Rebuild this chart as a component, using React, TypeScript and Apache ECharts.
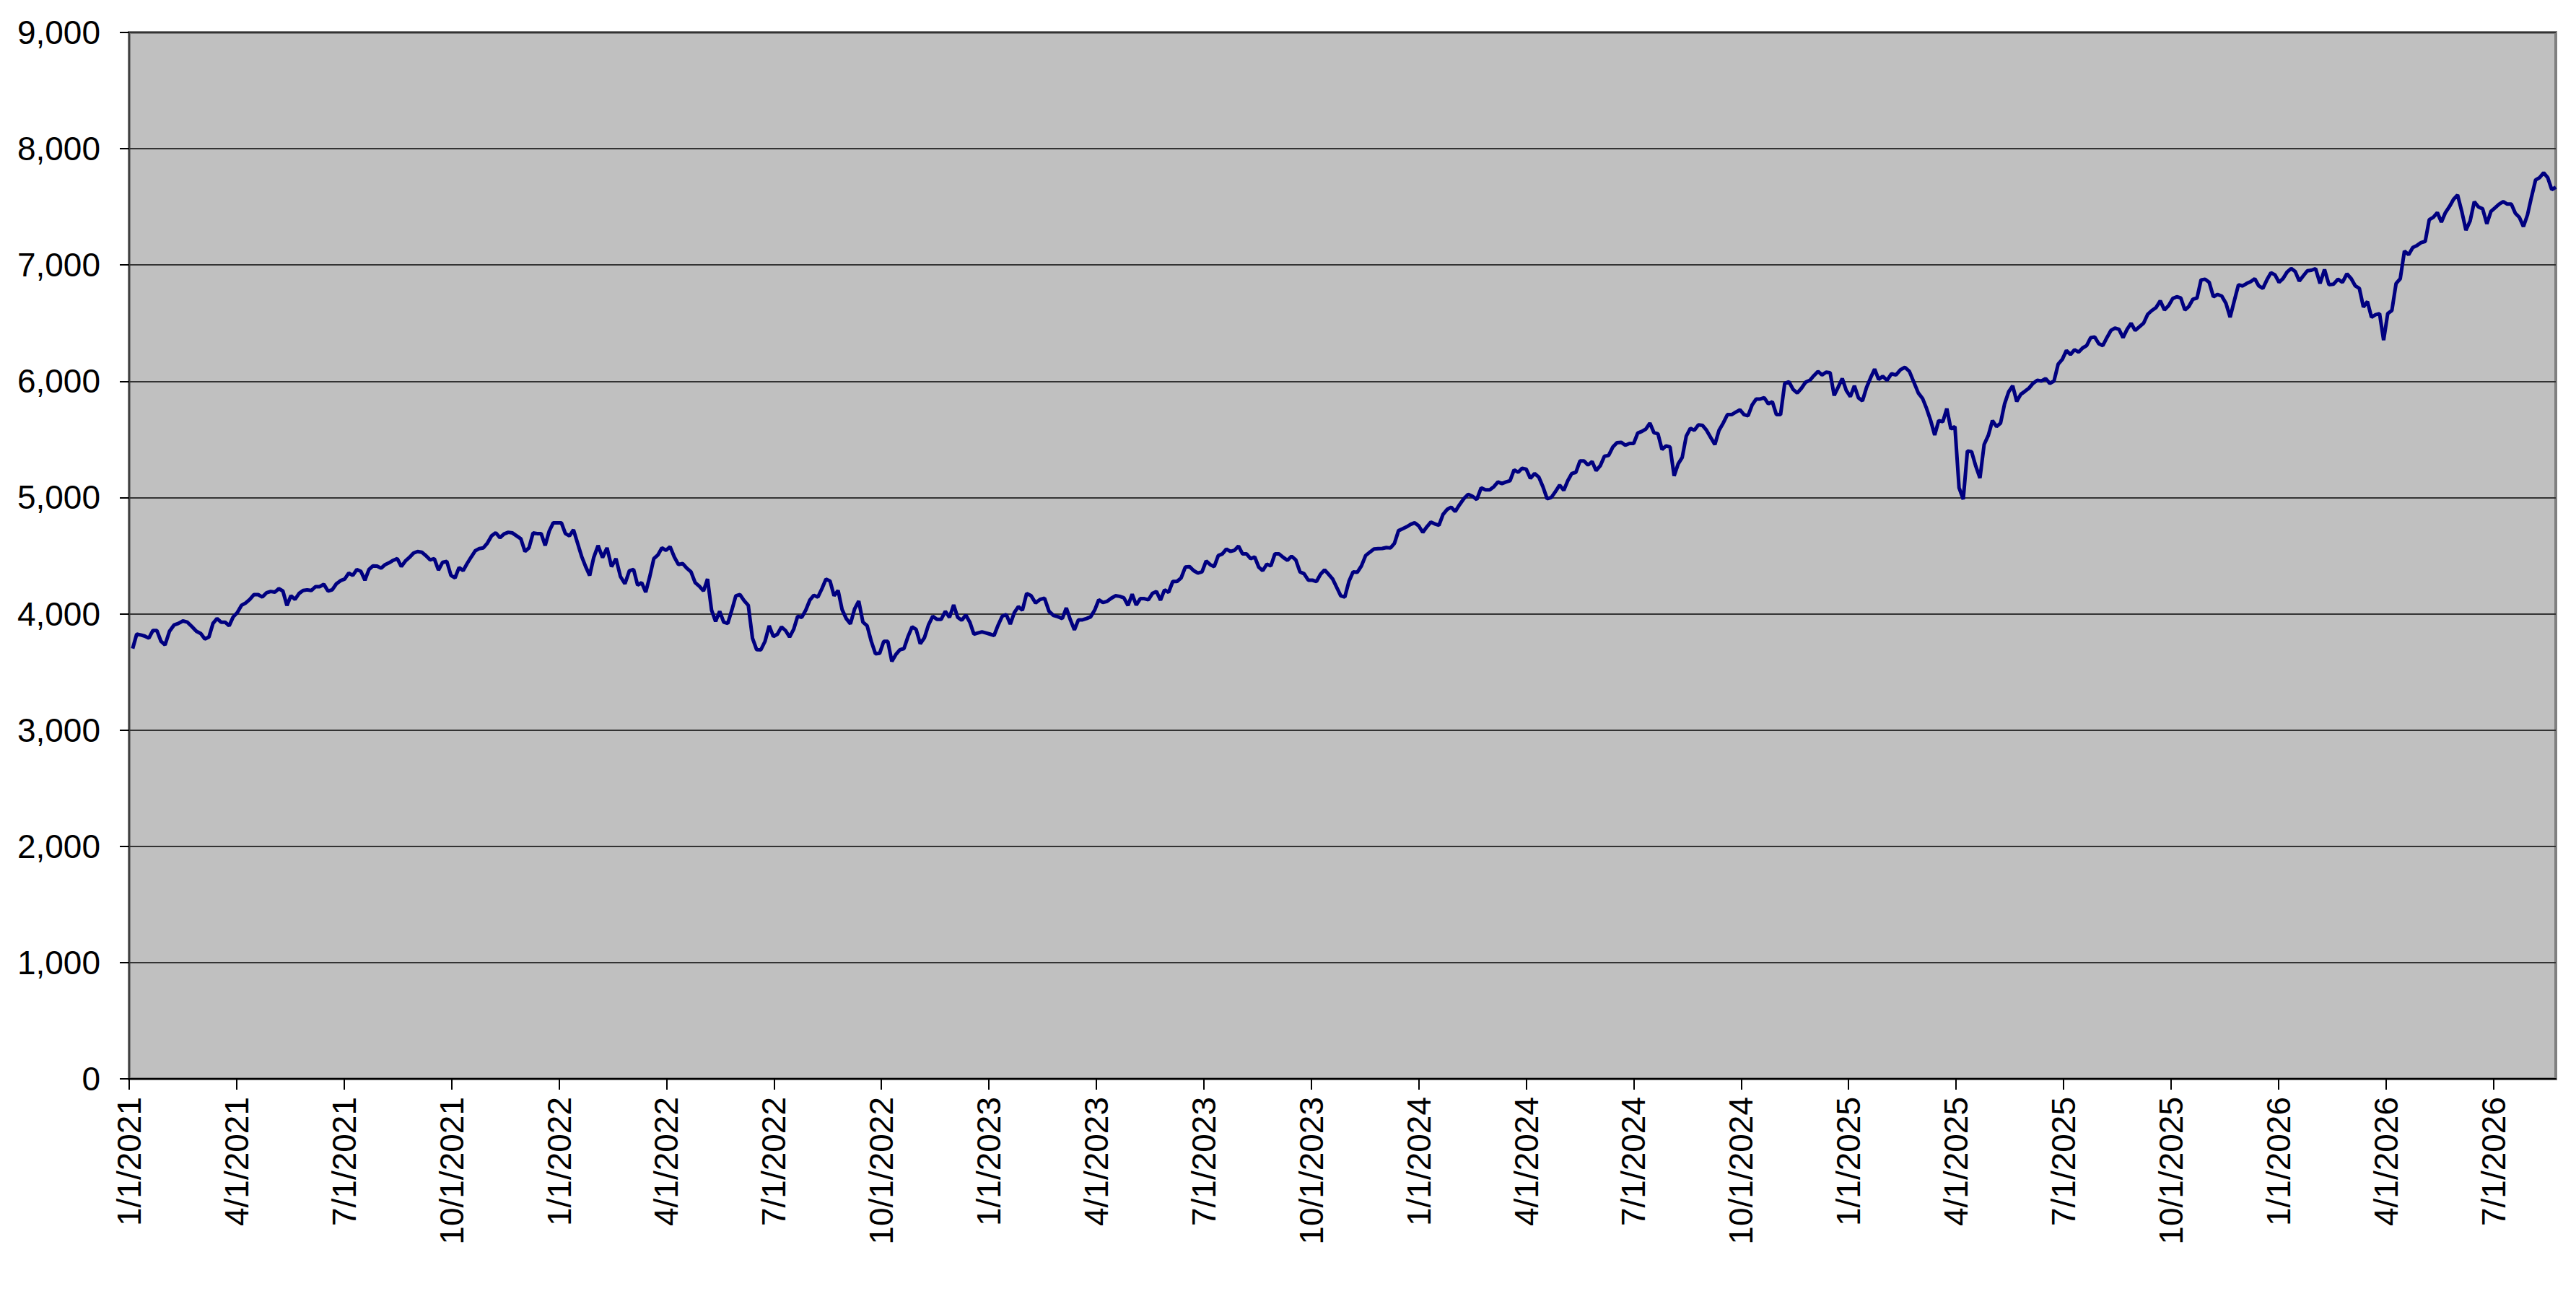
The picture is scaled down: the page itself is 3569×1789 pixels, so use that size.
import React, { useEffect, useRef } from 'react';
import * as echarts from 'echarts';

const firstSample = '2021-01-04';
const sampleStepDays = 3.5;

const values2021 = [
  3701, 3825, 3818, 3808, 3790, 3856, 3856, 3763, 3732, 3850, 3903, 3917, 3938, 3928,
  3890, 3850, 3830, 3783, 3800, 3917, 3959, 3928, 3928, 3897, 3973, 4010, 4072, 4093,
  4124, 4165, 4165, 4144, 4181, 4192, 4186, 4216, 4196, 4072, 4155, 4124, 4175, 4200,
  4206, 4200, 4233, 4233, 4254, 4196, 4206, 4258, 4285, 4299, 4350, 4330, 4381, 4365,
  4289, 4381, 4412, 4410, 4392, 4423, 4439, 4460, 4474, 4406, 4454, 4485, 4522, 4536,
  4530, 4500, 4464, 4474, 4376, 4443, 4450, 4330, 4309, 4398, 4371, 4433, 4489, 4542,
  4561, 4567, 4608, 4670, 4697, 4654, 4687, 4701, 4695, 4670, 4645, 4536, 4567, 4695,
  4690, 4690, 4588, 4711, 4783, 4783,
];
const values2022 = [
  4783, 4690, 4670, 4722, 4608, 4495, 4406, 4330, 4484, 4587, 4484, 4567, 4406, 4474,
  4320, 4258, 4371, 4381, 4247, 4268, 4186, 4320, 4474, 4505, 4567, 4546, 4577, 4489,
  4423, 4433, 4392, 4361, 4268, 4237, 4196, 4299, 4031, 3934, 4021, 3928, 3917, 4031,
  4155, 4165, 4113, 4072, 3790, 3691, 3690, 3763, 3897, 3804, 3825, 3887, 3856, 3800,
  3866, 3979, 3969, 4031, 4117, 4159, 4144, 4216, 4299, 4282, 4155, 4200, 4035, 3959,
  3913, 4041, 4109, 3928, 3897, 3763, 3656, 3660, 3763, 3763, 3590, 3650, 3691, 3701,
  3804, 3887, 3866, 3742, 3794, 3907, 3979, 3952, 3952, 4021, 3969, 4076, 3969, 3944,
  3990, 3928, 3825, 3835, 3845, 3835,
];
const values2023 = [
  3825, 3814, 3903, 3979, 3994, 3911, 4010, 4062, 4031, 4175, 4155, 4093, 4124, 4134,
  4021, 3986, 3975, 3959, 4050, 3948, 3862, 3948, 3948, 3959, 3973, 4031, 4120, 4097,
  4107, 4134, 4155, 4150, 4138, 4072, 4169, 4076, 4130, 4130, 4120, 4175, 4192, 4117,
  4206, 4185, 4278, 4278, 4309, 4402, 4406, 4371, 4350, 4361, 4454, 4423, 4406, 4501,
  4515, 4557, 4536, 4546, 4583, 4515, 4515, 4474, 4489, 4402, 4371, 4427, 4412, 4515,
  4515, 4485, 4460, 4495, 4464, 4361, 4344, 4289, 4289, 4278, 4340, 4377, 4340, 4299,
  4227, 4155, 4144, 4278, 4361, 4357, 4412, 4501, 4530, 4557, 4561, 4562, 4570, 4566,
  4607, 4715, 4731, 4748, 4769, 4783,
];
const values2024 = [
  4756, 4700, 4748, 4789, 4773, 4762, 4855, 4897, 4917, 4880, 4938, 4990, 5027, 5010,
  4983, 5083, 5066, 5066, 5093, 5134, 5120, 5134, 5145, 5238, 5217, 5252, 5244, 5165,
  5207, 5176, 5093, 4990, 5000, 5052, 5107, 5062, 5145, 5207, 5217, 5314, 5314, 5279,
  5310, 5231, 5273, 5355, 5362, 5434, 5471, 5475, 5450, 5465, 5465, 5554, 5568, 5589,
  5640, 5558, 5548, 5413, 5444, 5434, 5186, 5289, 5345, 5528, 5595, 5579, 5625, 5621,
  5579, 5517, 5456, 5579, 5641, 5713, 5713, 5734, 5755, 5713, 5703, 5796, 5847, 5847,
  5858, 5806, 5823, 5713, 5713, 5981, 5996, 5930, 5899, 5940, 5992, 6008, 6049, 6085,
  6054, 6078, 6074, 5878, 5950, 6023,
];
const values2025 = [
  5920, 5868, 5961, 5858, 5831, 5946, 6029, 6105, 6016, 6043, 6008, 6064, 6054, 6099,
  6120, 6085, 5992, 5899, 5852, 5765, 5662, 5538, 5662, 5652, 5765, 5590, 5610, 5084,
  4985, 5400, 5394, 5270, 5167, 5456, 5534, 5662, 5610, 5640, 5806, 5909, 5961, 5826,
  5888, 5913, 5940, 5982, 6008, 6002, 6023, 5982, 6002, 6147, 6189, 6265, 6230, 6271,
  6251, 6286, 6307, 6375, 6381, 6323, 6307, 6375, 6437, 6458, 6447, 6375, 6447, 6499,
  6437, 6468, 6499, 6576, 6609, 6634, 6692, 6613, 6650, 6712, 6727, 6716, 6613, 6644,
  6706, 6716, 6872, 6878, 6851, 6727, 6747, 6733, 6671, 6551, 6692, 6830, 6820, 6841,
  6857, 6882, 6820, 6799, 6872, 6934,
];
const values2026 = [
  6915, 6851, 6884, 6940, 6970, 6944, 6862, 6907, 6950, 6955, 6969, 6841, 6961, 6830,
  6835, 6878, 6851, 6924, 6882, 6820, 6799, 6638, 6686, 6551, 6572, 6582, 6354, 6582,
  6609, 6841, 6882, 7120, 7089, 7151, 7168, 7193, 7203, 7390, 7410, 7451, 7369, 7451,
  7503, 7565, 7603, 7462, 7300, 7379, 7545, 7499, 7483, 7354, 7462, 7493, 7524, 7545,
  7524, 7524, 7445, 7410, 7330, 7431, 7586, 7731, 7752, 7793, 7752, 7648, 7670,
];

// Quarterly tick positions, in months since January 2021
const quarterTicks = [
  0, 3, 6, 9, 12, 15, 18, 21, 24, 27, 30, 33, 36, 39, 42, 45, 48, 51, 54, 57, 60, 63, 66,
];
const yMin = 0;
const yMax = 9000;
const yStep = 1000;

const FONT = '"Liberation Sans", Arial, Helvetica, sans-serif';

function monthIndex(d: Date): number {
  const y = d.getUTCFullYear();
  const m = d.getUTCMonth();
  const day = d.getUTCDate() - 1 + d.getUTCHours() / 24;
  const dim = new Date(Date.UTC(y, m + 1, 0)).getUTCDate();
  return (y - 2021) * 12 + m + day / dim;
}

function quarterLabel(v: number): string {
  const idx = Math.round(v);
  const month = (idx % 12) + 1;
  const year = 2021 + Math.floor(idx / 12);
  return `${month}/1/${year}`;
}

export default function App() {
  const ref = useRef<HTMLDivElement>(null);

  useEffect(() => {
    if (!ref.current) return;
    const chart = echarts.init(ref.current, undefined, { renderer: 'svg' });
    const all = [
      ...values2021,
      ...values2022,
      ...values2023,
      ...values2024,
      ...values2025,
      ...values2026,
    ];
    const start = new Date(firstSample + 'T00:00:00Z');
    const data = all.map((v, i) => {
      const d = new Date(start.getTime() + i * sampleStepDays * 86400000);
      return [monthIndex(d), v];
    });
    const xMax = data[data.length - 1][0];

    chart.setOption({
      animation: false,
      backgroundColor: '#ffffff',
      grid: {
        left: 179,
        top: 45,
        right: 28,
        bottom: 294,
        show: true,
        backgroundColor: '#C0C0C0',
        borderColor: '#808080',
        borderWidth: 4,
      },
      xAxis: {
        type: 'value',
        min: 0,
        max: xMax,
        interval: 3,
        axisLine: { show: true, onZero: false, lineStyle: { color: '#000000', width: 2 } },
        axisTick: {
          show: true,
          length: 15,
          customValues: quarterTicks,
          lineStyle: { color: '#000000', width: 2 },
        },
        axisLabel: {
          show: true,
          rotate: 90,
          margin: 25,
          customValues: quarterTicks,
          fontSize: 46,
          fontFamily: FONT,
          color: '#000000',
          formatter: (v: number) => quarterLabel(v),
        },
        splitLine: { show: false },
      },
      yAxis: {
        type: 'value',
        min: yMin,
        max: yMax,
        interval: yStep,
        axisLine: { show: true, lineStyle: { color: '#404040', width: 2 } },
        axisTick: { show: true, length: 13, lineStyle: { color: '#000000', width: 2 } },
        axisLabel: {
          margin: 40,
          fontSize: 46,
          fontFamily: FONT,
          color: '#000000',
          formatter: (v: number) => v.toLocaleString('en-US'),
        },
        splitLine: { show: true, lineStyle: { color: '#333333', width: 2 } },
      },
      series: [
        {
          type: 'line',
          data,
          showSymbol: false,
          symbol: 'none',
          smooth: false,
          lineStyle: { color: '#000080', width: 5 },
          emphasis: { disabled: true },
        },
      ],
    });
    return () => chart.dispose();
  }, []);

  return (
    <div
      ref={ref}
      style={{ position: 'fixed', left: 0, top: 0, width: 3569, height: 1789, background: '#ffffff' }}
    />
  );
}
